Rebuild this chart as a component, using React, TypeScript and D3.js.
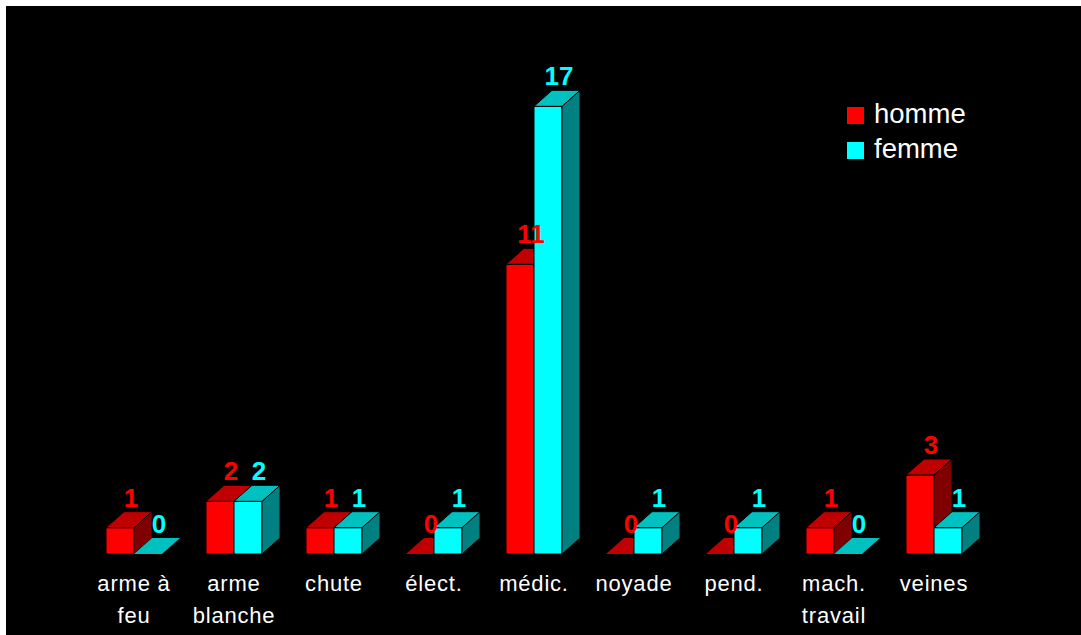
import React from "react";
import * as d3 from "d3";

const categories = ["arme à feu", "arme blanche", "chute", "élect.", "médic.", "noyade", "pend.", "mach. travail", "veines"];
const categoryLines = [["arme à", "feu"], ["arme", "blanche"], ["chute"], ["élect."], ["médic."], ["noyade"], ["pend."], ["mach.", "travail"], ["veines"]];
const homme = [1, 2, 1, 0, 11, 0, 0, 1, 3];
const femme = [0, 2, 1, 1, 17, 1, 1, 0, 1];
const seriesNames = ["homme", "femme"];

const W = 1081, H = 635;
const DX = 18, DY = 16, BW = 28;

const colors = [
  { front: "#FF0000", top: "#C00000", side: "#800000" },
  { front: "#00FFFF", top: "#00C0C0", side: "#008080" },
];

export default function App() {
  const x = d3.scaleBand<string>().domain(categories).range([84, 984]).padding(0);
  const y = d3.scaleLinear().domain([0, 18]).range([554, 80]);
  const series = [homme, femme];
  const font = "'Liberation Sans', Arial, sans-serif";

  const bars: React.ReactNode[] = [];
  const labels: React.ReactNode[] = [];
  categories.forEach((c, i) => {
    const center = (x(c) as number) + x.bandwidth() / 2;
    series.forEach((vals, s) => {
      const v = vals[i];
      const x0 = center - BW + s * BW;
      const x1 = x0 + BW;
      const yb = y(0);
      const yt = y(v);
      const col = colors[s];
      const pts = (arr: number[][]) => arr.map((p) => p.join(",")).join(" ");
      bars.push(
        <g key={`b-${i}-${s}`} stroke="#000" strokeWidth={1} strokeLinejoin="round">
          {v > 0 && <rect x={x0} y={yt} width={BW} height={yb - yt} fill={col.front} />}
          {v > 0 && (
            <polygon points={pts([[x1, yt], [x1 + DX, yt - DY], [x1 + DX, yb - DY], [x1, yb]])} fill={col.side} />
          )}
          <polygon
            points={pts([[x0, yt], [x1, yt], [x1 + DX, yt - DY], [x0 + DX, yt - DY]])}
            fill={col.top}
            stroke={v > 0 ? "#000" : "none"}
          />
        </g>
      );
      labels.push(
        <text
          key={`l-${i}-${s}`}
          x={x0 + BW / 2 + 11}
          y={yt - DY - 5}
          textAnchor="middle"
          fill={col.front}
          fontFamily={font}
          fontWeight="bold"
          fontSize={26}
        >
          {v}
        </text>
      );
    });
  });

  return (
    <svg
      width={W}
      height={H}
      style={{ position: "fixed", left: 0, top: 0, background: "#fff" }}
    >
      <rect x={6} y={6} width={W - 6} height={H - 6} fill="#000" />
      {bars}
      {labels}
      {categories.map((c, i) => {
        const center = (x(c) as number) + x.bandwidth() / 2;
        return (
          <text key={`c-${i}`} x={center} y={591} textAnchor="middle" fill="#fff" fontFamily={font} fontSize={22} letterSpacing={0.8}>
            {categoryLines[i].map((ln, k) => (
              <tspan key={k} x={center} dy={k === 0 ? 0 : 32}>
                {ln}
              </tspan>
            ))}
          </text>
        );
      })}
      {seriesNames.map((n, s) => (
        <g key={`lg-${s}`}>
          <rect x={847} y={107 + s * 35} width={17} height={17} fill={colors[s].front} />
          <text x={874} y={123 + s * 35} fill="#fff" fontFamily={font} fontSize={27.5}>
            {n}
          </text>
        </g>
      ))}
    </svg>
  );
}
